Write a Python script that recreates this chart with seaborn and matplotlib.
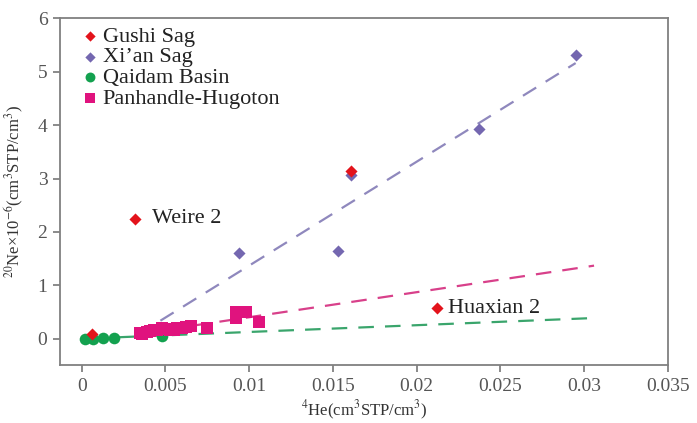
import matplotlib
matplotlib.use("Agg")
import matplotlib.pyplot as plt
import seaborn as sns
import pandas as pd

# ---- data ----
gushi_x = [0.0006, 0.0032, 0.0161, 0.0212]
gushi_y = [0.10, 2.25, 3.15, 0.57]

xian_x = [0.0094, 0.0153, 0.0161, 0.0237, 0.0295]
xian_y = [1.60, 1.64, 3.07, 3.93, 5.31]

qaidam_x = [0.0002, 0.0007, 0.0013, 0.0019, 0.0048]
qaidam_y = [0.00, 0.00, 0.02, 0.02, 0.05]

pan_x = [0.0035, 0.0036, 0.0039, 0.0041, 0.0043, 0.0045, 0.0048, 0.0050,
         0.0053, 0.0055, 0.0057, 0.0060, 0.0062, 0.0065, 0.0075, 0.0092,
         0.0092, 0.0098, 0.0106]
pan_y = [0.11, 0.10, 0.13, 0.15, 0.17, 0.16, 0.20, 0.18, 0.17, 0.17, 0.20,
         0.20, 0.22, 0.24, 0.20, 0.50, 0.39, 0.50, 0.31]

# trend lines (endpoints)
xian_fit_x = [0.0047, 0.0295]
xian_fit_y = [0.34, 5.16]
pan_fit_x = [0.0035, 0.0306]
pan_fit_y = [0.10, 1.37]
qai_fit_x = [0.0022, 0.0306]
qai_fit_y = [0.03, 0.39]

labels = ["Gushi Sag", "Xi\u2019an Sag", "Qaidam Basin", "Panhandle-Hugoton"]
annot_names = ["Weire 2", "Huaxian 2"]

red = "#e3131b"
purple = "#7467b0"
green = "#13a14f"
magenta = "#e0137e"

sns.set_theme(style="white")
plt.rcParams["font.family"] = ["Liberation Serif", "DejaVu Serif"]
plt.rcParams["mathtext.fontset"] = "stix"

fig = plt.figure(figsize=(6.97, 4.23), dpi=100)
ax = fig.add_axes([0.086, 0.137, 0.872, 0.820])

# lines
sns.lineplot(x=xian_fit_x, y=xian_fit_y, ax=ax, color="#8f88bd",
             linestyle=(0, (7, 5)), linewidth=1.6, zorder=1)
sns.lineplot(x=pan_fit_x, y=pan_fit_y, ax=ax, color="#d8408a",
             linestyle=(0, (7, 5)), linewidth=1.6, zorder=1)
sns.lineplot(x=qai_fit_x, y=qai_fit_y, ax=ax, color="#3aa56c",
             linestyle=(0, (7, 5)), linewidth=1.6, zorder=1)

# scatter
sns.scatterplot(x=qaidam_x, y=qaidam_y, ax=ax, color=green, marker="o",
                s=70, linewidth=0, zorder=3, label=labels[2])
sns.scatterplot(x=pan_x, y=pan_y, ax=ax, color=magenta, marker="s",
                s=85, linewidth=0, zorder=3, label=labels[3])
sns.scatterplot(x=xian_x, y=xian_y, ax=ax, color=purple, marker="D",
                s=38, linewidth=0, zorder=4, label=labels[1])
sns.scatterplot(x=gushi_x, y=gushi_y, ax=ax, color=red, marker="D",
                s=38, linewidth=0, zorder=5, label=labels[0])

ax.text(gushi_x[1] + 0.001, gushi_y[1], annot_names[0], fontsize=16,
        va="center", ha="left", color="#222222")
ax.text(gushi_x[3] + 0.0007, gushi_y[3], annot_names[1], fontsize=16,
        va="center", ha="left", color="#222222")

ax.set_xlim(-0.0013, 0.035)
ax.set_ylim(-0.49, 6)
ax.set_xticks([0, 0.005, 0.01, 0.015, 0.02, 0.025, 0.03, 0.035])
ax.set_xticklabels(["0", "0.005", "0.01", "0.015", "0.02", "0.025", "0.03", "0.035"])
ax.set_yticks([0, 1, 2, 3, 4, 5, 6])
ax.tick_params(axis="both", direction="out", length=5, width=1.2,
               color="#777777", labelsize=14, labelcolor="#555555", pad=4,
               bottom=True, left=True)
for sp in ax.spines.values():
    sp.set_color("#808080")
    sp.set_linewidth(1.3)

ax.set_xlabel(r"$^{4}$He(cm$^{3}$STP/cm$^{3}$)", fontsize=12, color="#333333",
              labelpad=3)
ax.set_ylabel(r"$^{20}$Ne×10$^{-6}$(cm$^{3}$STP/cm$^{3}$)", fontsize=12,
              color="#333333", labelpad=8)

handles, labs = ax.get_legend_handles_labels()
order = [labs.index(l) for l in labels]
leg = ax.legend([handles[i] for i in order], [labs[i] for i in order],
                loc="upper left", bbox_to_anchor=(0.01, 1.015), frameon=False,
                fontsize=16, handletextpad=0.05, labelspacing=0.0,
                borderaxespad=0.2, handlelength=1.0, markerscale=0.85)
for t in leg.get_texts():
    t.set_color("#222222")

fig.savefig("out.png", dpi=100)
